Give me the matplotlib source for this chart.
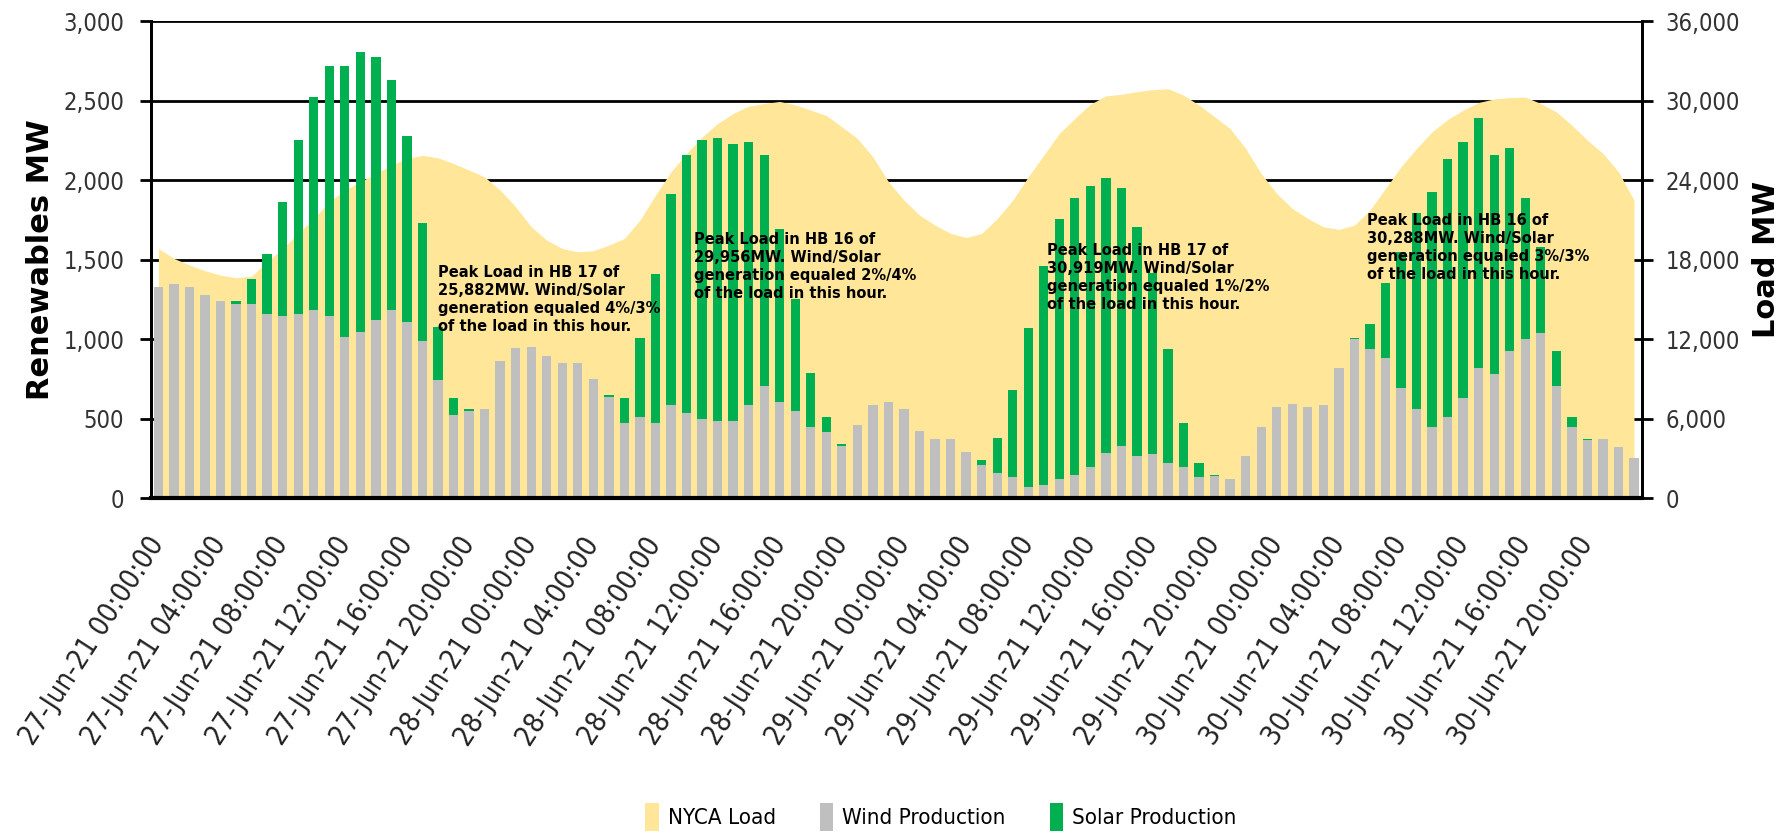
import numpy as np
import matplotlib
matplotlib.use('Agg')
from matplotlib import pyplot as plt
from matplotlib import font_manager
from matplotlib.font_manager import FontProperties
from matplotlib.patches import Patch

# hourly data, 27-Jun-21 00:00 .. 30-Jun-21 23:00
wind = [1326, 1349, 1326, 1276, 1242, 1221, 1221, 1158, 1146, 1158, 1183, 1146,
        1011, 1047, 1120, 1183, 1110, 988, 743, 522, 550, 558, 862, 942,
        952, 896, 852, 852, 749, 638, 470, 512, 470, 583, 533, 499,
        487, 487, 583, 705, 606, 548, 449, 413, 327, 459, 583, 606,
        558, 424, 373, 373, 290, 206, 159, 134, 71, 82, 120, 145,
        193, 281, 327, 266, 277, 218, 193, 130, 138, 117, 264, 449,
        571, 592, 571, 583, 816, 1001, 938, 879, 694, 558, 449, 512,
        632, 816, 780, 925, 999, 1036, 705, 449, 365, 369, 323, 250]

solar = [0, 0, 0, 0, 0, 21, 155, 378, 719, 1097, 1341, 1573,
         1708, 1758, 1658, 1448, 1171, 741, 335, 110, 10, 0, 0, 0,
         0, 0, 0, 0, 0, 8, 161, 497, 940, 1328, 1624, 1754,
         1781, 1743, 1660, 1452, 1089, 705, 340, 99, 11, 0, 0, 0,
         0, 0, 0, 0, 0, 35, 217, 546, 1001, 1380, 1636, 1745,
         1771, 1731, 1622, 1442, 1139, 718, 281, 88, 7, 0, 0, 0,
         0, 0, 0, 0, 0, 8, 157, 472, 857, 1234, 1475, 1620,
         1611, 1574, 1377, 1280, 887, 546, 220, 59, 9, 0, 0, 0]

load = [18850, 18100, 17600, 17170, 16840, 16640, 16760, 17850, 18850, 19990, 21120, 22380,
        23260, 23890, 24520, 25150, 25650, 25882, 25700, 25270, 24770, 24260, 23260, 22000,
        20490, 19480, 18850, 18600, 18680, 19100, 19610, 20990, 22880, 24640, 26030, 27280,
        28290, 29050, 29600, 29800, 29956, 29700, 29300, 28900, 28040, 27160, 25770, 23890,
        22500, 21370, 20610, 19990, 19680, 19990, 21100, 22500, 24260, 25900, 27540, 28670,
        29750, 30380, 30500, 30700, 30850, 30919, 30430, 29680, 28800, 27900, 26400, 24500,
        23000, 21870, 21120, 20490, 20290, 20610, 21750, 23380, 25020, 26400, 27660, 28590,
        29300, 29880, 30150, 30250, 30288, 29800, 29170, 28160, 27030, 26030, 24640, 22500]

days = ['27-Jun-21', '28-Jun-21', '29-Jun-21', '30-Jun-21']
tick_hours = ['00:00:00', '04:00:00', '08:00:00', '12:00:00', '16:00:00', '20:00:00']

notes = ['Peak Load in HB 17 of\n25,882MW. Wind/Solar\ngeneration equaled 4%/3%\nof the load in this hour.',
         'Peak Load in HB 16 of\n29,956MW. Wind/Solar\ngeneration equaled 2%/4%\nof the load in this hour.',
         'Peak Load in HB 17 of\n30,919MW. Wind/Solar\ngeneration equaled 1%/2%\nof the load in this hour.',
         'Peak Load in HB 16 of\n30,288MW. Wind/Solar\ngeneration equaled 3%/3%\nof the load in this hour.']
note_xy = [(18.0, 1470), (34.5, 1675), (57.2, 1605), (77.8, 1795)]

# look for a condensed / narrow face, the original uses a tall narrow font
def find_narrow(bold=False):
    for f in font_manager.fontManager.ttflist:
        narrowish = ('Narrow' in f.name or 'Condensed' in f.name or
                     f.stretch in ('condensed', 'semi-condensed', 'extra-condensed'))
        w = f.weight if isinstance(f.weight, int) else (700 if f.weight == 'bold' else 400)
        if narrowish and f.style == 'normal' and 'Mono' not in f.name and 'Serif' not in f.name:
            if (bold and w >= 600) or (not bold and w < 600):
                return FontProperties(fname=f.fname)
    return None

fp_narrow = find_narrow()
fp_narrow_bold = find_narrow(bold=True)
if fp_narrow is not None:
    tick_fs, xtick_fs, leg_fs = 17, 20, 16
else:
    fp_narrow = FontProperties(family='DejaVu Sans')
    tick_fs, xtick_fs, leg_fs = 14, 17, 14
if fp_narrow_bold is not None:
    fp_note = fp_narrow_bold
    note_fs = 11.7
else:
    fp_note = FontProperties(family='Roboto', weight='bold')
    note_fs = 14.5

fig = plt.figure(figsize=(17.89, 8.32), dpi=100)
ax = fig.add_axes([0.0842, 0.4014, 0.8335, 0.5728])
ax2 = ax.twinx()
ax.set_zorder(2)
ax2.set_zorder(1)
ax.patch.set_visible(False)

hours = np.arange(len(wind))
ax2.fill_between(hours, load, color='#FFE699', lw=0, zorder=1)
ax.bar(hours, wind, width=0.6, color='#BFBFBF', zorder=3)
ax.bar(hours, solar, bottom=wind, width=0.6, color='#00B050', zorder=3)

ax.set_xlim(-0.5, len(wind) - 0.5)
ax.set_ylim(0, 3000)
ax2.set_ylim(0, 36000)
ax.set_yticks(np.arange(0, 3001, 500))
ax2.set_yticks(np.arange(0, 36001, 6000))
ax.set_yticklabels([f'{v:,}' for v in range(0, 3001, 500)], color='#333333')
ax2.set_yticklabels([f'{v:,}' for v in range(0, 36001, 6000)], color='#333333')
for lab in ax.get_yticklabels() + ax2.get_yticklabels():
    lab.set_fontproperties(fp_narrow)
    lab.set_fontsize(tick_fs)

ax2.yaxis.grid(True, color='black', lw=2)
ax2.set_axisbelow(True)

xlabels = [f'{d} {h}' for d in days for h in tick_hours]
ax.set_xticks(np.arange(0, len(wind), 4))
ax.set_xticklabels(xlabels, rotation=57, ha='right', va='center', rotation_mode='anchor',
                   color='#222222')
for lab in ax.get_xticklabels():
    lab.set_fontproperties(fp_narrow)
    lab.set_fontsize(xtick_fs)
ax.tick_params(axis='x', length=0, pad=30)
ax.tick_params(axis='y', length=8, width=2, pad=11)
ax2.tick_params(axis='y', length=8, width=2, pad=9)

for a in (ax, ax2):
    a.spines['top'].set_visible(False)
    for s in ('left', 'right', 'bottom'):
        a.spines[s].set_linewidth(2)
        a.spines[s].set_zorder(5)
ax.spines['bottom'].set_linewidth(3)

ax.set_ylabel('Renewables MW', fontsize=22, fontweight='bold')
ax.yaxis.set_label_coords(-0.064, 0.5)
ax2.set_ylabel('Load MW', fontsize=22, fontweight='bold', rotation=90)
ax2.yaxis.set_label_coords(1.074, 0.5)

for (x, y), t in zip(note_xy, notes):
    ax.text(x, y, t, ha='left', va='top', fontproperties=fp_note, fontsize=note_fs,
            linespacing=1.25, zorder=6)

handles = [Patch(facecolor='#FFE699'), Patch(facecolor='#BFBFBF'), Patch(facecolor='#00B050')]
leg_prop = fp_narrow.copy()
leg_prop.set_size(leg_fs)
fig.legend(handles, ['NYCA Load', 'Wind Production', 'Solar Production'], loc='center',
           bbox_to_anchor=(0.526, 0.018), ncol=3, frameon=False, handlelength=0.6,
           handleheight=1.6, handletextpad=0.4, columnspacing=2.0, prop=leg_prop)

fig.savefig('out.png', dpi=100)
